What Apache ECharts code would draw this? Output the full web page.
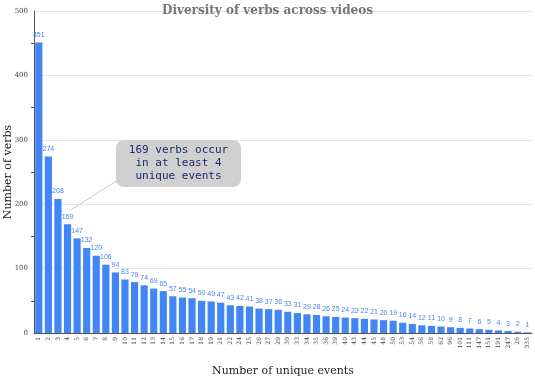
<!DOCTYPE html>
<html><head><meta charset="utf-8">
<script src="https://cdn.jsdelivr.net/npm/echarts@6/dist/echarts.min.js"></script>
<style>html,body{margin:0;padding:0;background:#fff}#c{width:535px;height:378px}</style>
</head><body><div id="c"></div>
<script>
const categories = ['1','2','3','4','5','6','7','8','9','10','11','12','13','14','15','16','17','18','19','21','22','24','25','26','27','29','30','33','34','35','36','39','40','43','44','45','48','50','53','54','56','58','62','96','101','111','147','151','191','247','26','335'];
const verbCounts = [451,274,208,169,147,132,120,106,94,83,79,74,69,65,57,55,54,50,49,47,43,42,41,38,37,36,33,31,29,28,26,25,24,23,22,21,20,19,16,14,12,11,10,9,8,7,6,5,4,3,2,1];
const annotationText = '169 verbs occur\nin at least 4\nunique events';
const annotationIndex = 3;

const chart = echarts.init(document.getElementById('c'), null, {renderer:'canvas'});
const serif = 'Georgia, "DejaVu Serif", serif';
chart.setOption({
  animation:false,
  title:{text:'Diversity of verbs across videos',left:'center',top:0,
    textStyle:{fontFamily:serif,fontSize:12,fontWeight:'bold',color:'#757575'}},
  grid:{left:34,right:3,top:11,bottom:45,outerBoundsMode:'none'},
  xAxis:{type:'category',data:categories,name:'Number of unique events',nameLocation:'middle',nameGap:33,nameMoveOverlap:false,
    nameTextStyle:{fontFamily:serif,fontSize:11,color:'#222'},
    axisLine:{lineStyle:{color:'#555'}},axisTick:{show:false},
    axisLabel:{interval:0,rotate:90,fontSize:6,color:'#444',fontFamily:serif,margin:4}},
  yAxis:{type:'value',min:0,max:500,interval:100,name:'Number of verbs',nameLocation:'middle',nameGap:20,nameMoveOverlap:false,
    nameTextStyle:{fontFamily:serif,fontSize:11,color:'#222'},
    axisLine:{show:true,lineStyle:{color:'#555'}},
    axisTick:{show:false},minorTick:{show:true,splitNumber:2,length:3,lineStyle:{color:'#555'}},
    splitLine:{lineStyle:{color:'#e6e6e6'}},
    axisLabel:{fontSize:7,color:'#444',fontFamily:serif,margin:6}},
  series:[{type:'bar',data:verbCounts,barCategoryGap:'25%',
    itemStyle:{color:'#4285f4'},
    label:{show:true,position:'top',fontSize:7,color:'#4a86e8',distance:4}}]
});
const p = chart.convertToPixel({seriesIndex:0},[annotationIndex,verbCounts[annotationIndex]]);
chart.setOption({graphic:[
  {type:'line',shape:{x1:p[0]+3,y1:p[1]-14,x2:118,y2:180},style:{stroke:'#c8c8c8',lineWidth:1},z:10},
  {type:'rect',shape:{x:116,y:140,width:125,height:47,r:8},style:{fill:'#d0d0d0'},z:11},
  {type:'text',x:178.5,y:163.5,style:{text:annotationText,font:'11px "DejaVu Sans Mono", monospace',fill:'#1c2a6b',textAlign:'center',textVerticalAlign:'middle',lineHeight:13},z:12}
]});
</script></body></html>
